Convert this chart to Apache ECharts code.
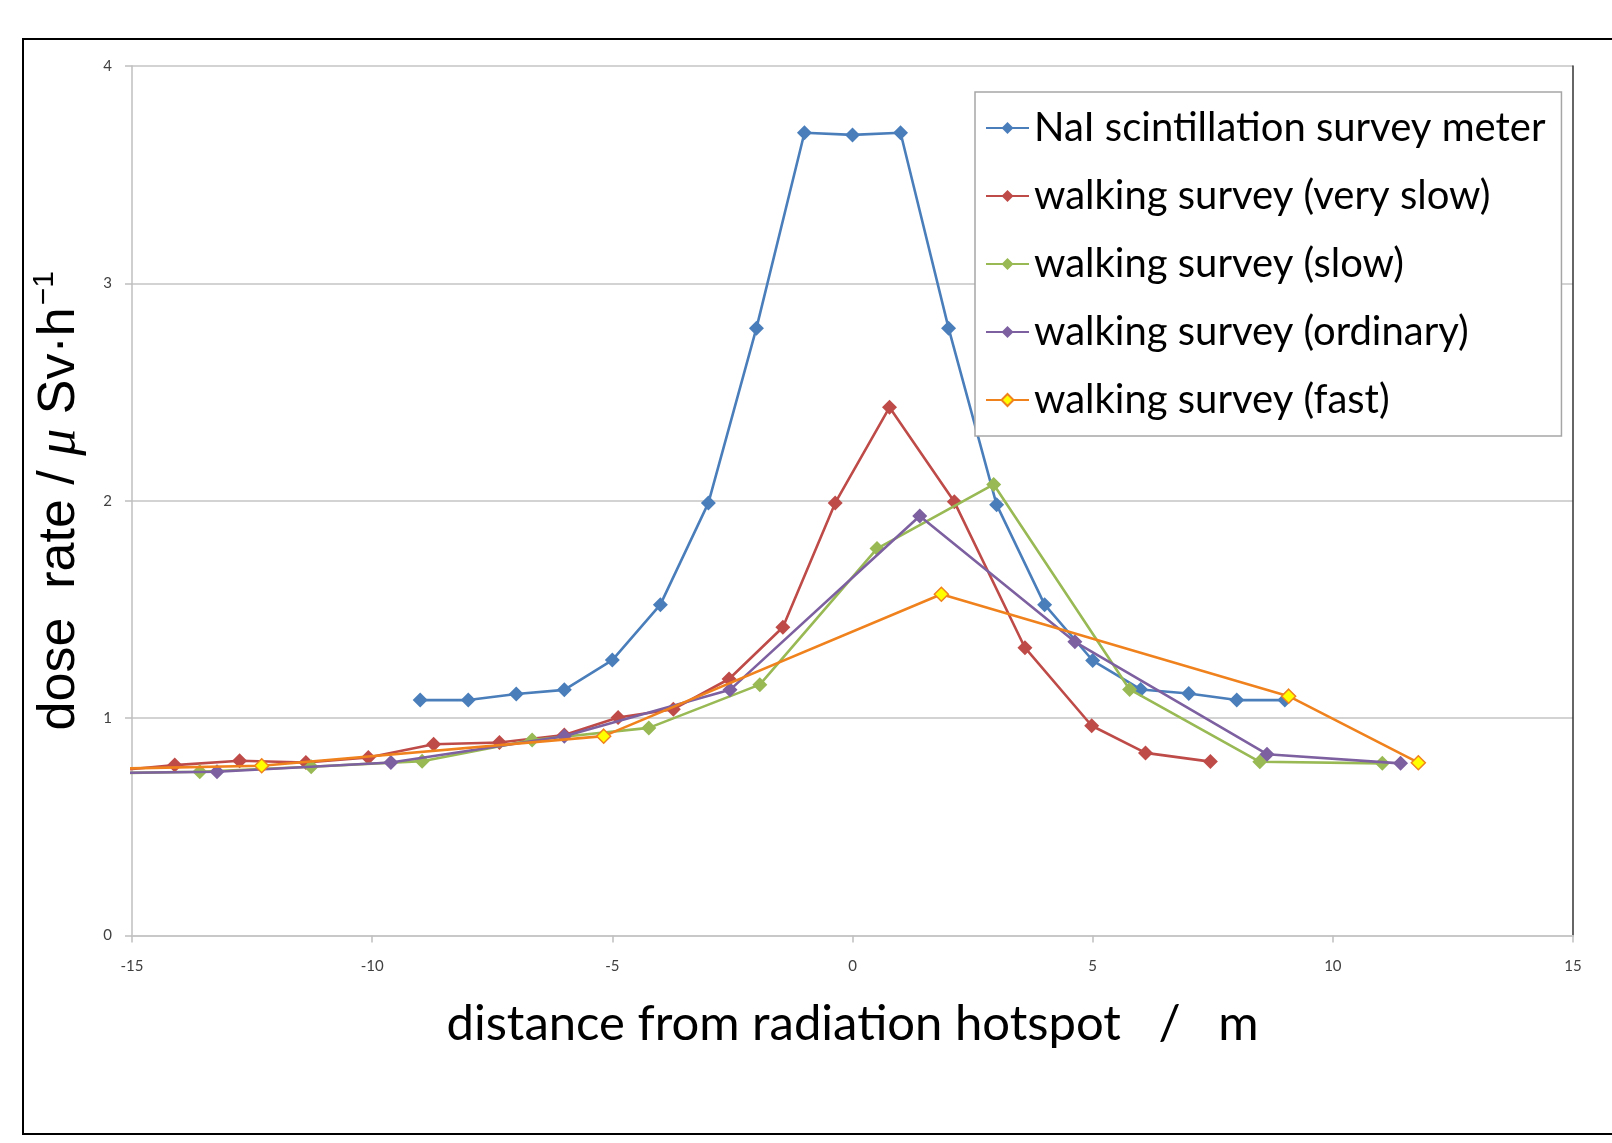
<!DOCTYPE html>
<html>
<head>
<meta charset="utf-8">
<script src="https://cdn.jsdelivr.net/npm/echarts@6/dist/echarts.min.js"></script>
<style>
html,body{margin:0;padding:0;background:#fff;}
#chart{width:1612px;height:1143px;}
</style>
</head>
<body>
<div id="chart"></div>
<script>
// ---- data ----
const seriesNames = [
  'NaI scintillation survey meter',
  'walking survey (very slow)',
  'walking survey (slow)',
  'walking survey (ordinary)',
  'walking survey (fast)'
];
const naiX = [-9, -8, -7, -6, -5, -4, -3, -2, -1, 0, 1, 2, 3, 4, 5, 6, 7, 8, 9];
const naiY = [1.083, 1.083, 1.111, 1.13, 1.267, 1.522, 1.99, 2.794, 3.693, 3.683, 3.693, 2.794, 1.982, 1.522, 1.265, 1.132, 1.113, 1.083, 1.083];

const verySlowX = [-15.5, -14.11, -12.76, -11.38, -10.08, -8.72, -7.35, -6.0, -4.88, -3.73, -2.57, -1.45, -0.36, 0.77, 2.12, 3.59, 4.98, 6.1, 7.45];
const verySlowY = [0.755, 0.784, 0.804, 0.796, 0.819, 0.88, 0.888, 0.922, 1.003, 1.041, 1.18, 1.418, 1.99, 2.43, 1.995, 1.324, 0.965, 0.84, 0.80];

const slowX = [-15.9, -13.59, -11.27, -8.96, -6.67, -4.24, -1.93, 0.51, 2.94, 5.77, 8.48, 11.03];
const slowY = [0.745, 0.753, 0.776, 0.802, 0.899, 0.955, 1.154, 1.78, 2.075, 1.132, 0.799, 0.792];

const ordinaryX = [-16.83, -13.23, -9.61, -6.0, -2.55, 1.40, 4.63, 8.63, 11.41];
const ordinaryY = [0.745, 0.753, 0.796, 0.917, 1.13, 1.93, 1.351, 0.834, 0.792];

const fastX = [-19.4, -12.3, -5.18, 1.85, 9.08, 11.78];
const fastY = [0.75, 0.781, 0.917, 1.57, 1.101, 0.795];

const xTicks = [-15, -10, -5, 0, 5, 10, 15];
const yTicks = [0, 1, 2, 3, 4];

// ---- build ----
function pairs(xs, ys){ return xs.map((x,i)=>[x, ys[i]]); }
const colors = ['#4A7EBB', '#BE4B48', '#98B954', '#7D60A0', '#F0821E'];
const allX = [naiX, verySlowX, slowX, ordinaryX, fastX];
const allY = [naiY, verySlowY, slowY, ordinaryY, fastY];

const series = seriesNames.map((name, i) => ({
  name: name,
  type: 'line',
  data: pairs(allX[i], allY[i]),
  clip: true,
  symbol: 'diamond',
  symbolSize: i === 4 ? 14 : 15,
  lineStyle: { color: colors[i], width: 2.6 },
  itemStyle: i === 4
    ? { color: '#FFFF00', borderColor: colors[i], borderWidth: 1.5 }
    : { color: colors[i], borderColor: colors[i], borderWidth: 0 },
  emphasis: { disabled: true },
  z: 2 + i
}));

const chart = echarts.init(document.getElementById('chart'), null, { renderer: 'canvas' });
chart.setOption({
  animation: false,
  backgroundColor: '#ffffff',
  color: colors,
  graphic: [{
    type: 'rect',
    shape: { x: 23, y: 39, width: 1640, height: 1095 },
    style: { fill: 'none', stroke: '#000000', lineWidth: 2 },
    z: -10, silent: true
  }],
  grid: { left: 132, right: 39, top: 66, bottom: 207.5, containLabel: false },
  legend: {
    orient: 'vertical',
    left: 975, top: 92,
    padding: [14, 16, 14, 10],
    itemGap: 24,
    itemWidth: 43, itemHeight: 15,
    backgroundColor: '#ffffff',
    borderColor: '#A6A6A6', borderWidth: 1.5,
    textStyle: { fontFamily: 'Lato', fontSize: 40, lineHeight: 44, color: '#000000' },
    data: seriesNames,
    selectedMode: false
  },
  xAxis: {
    type: 'value',
    min: -15, max: 15, interval: 5,
    name: 'distance from radiation hotspot\u00a0\u00a0\u00a0/\u00a0\u00a0\u00a0m',
    nameLocation: 'middle',
    nameGap: 60,
    nameTextStyle: { fontFamily: 'Lato', fontSize: 49, color: '#000000', lineHeight: 58 },
    axisLine: { show: true, onZero: false, lineStyle: { color: '#C8C8C8', width: 2 } },
    axisTick: { show: true, length: 7, lineStyle: { color: '#BFBFBF', width: 1.5 } },
    axisLabel: { margin: 23, fontFamily: 'Lato', fontSize: 15, color: '#404040',
      formatter: v => xTicks.includes(v) ? String(v) : '' },
    splitLine: { show: false }
  },
  yAxis: [{
    type: 'value',
    min: 0, max: 4, interval: 1,
    name: '{t|dose\u00a0\u00a0rate / }{mu|\u03bc}{t| Sv\u00b7h}{sup|\u22121}',
    nameLocation: 'middle',
    nameGap: 42,
    nameTextStyle: {
      fontFamily: 'Liberation Sans', fontSize: 52, color: '#000000',
      rich: {
        t: { fontFamily: 'Liberation Sans', fontSize: 52, lineHeight: 60, color: '#000' },
        mu: { fontFamily: 'Liberation Serif', fontStyle: 'italic', fontSize: 54, lineHeight: 60, color: '#000' },
        sup: { fontFamily: 'Liberation Sans', fontSize: 30, lineHeight: 60, verticalAlign: 'top', color: '#000', padding: [0,0,0,2] }
      }
    },
    axisLine: { show: true, onZero: false, lineStyle: { color: '#BFBFBF', width: 1.5 } },
    axisTick: { show: true, length: 7, lineStyle: { color: '#BFBFBF', width: 1.5 } },
    axisLabel: { margin: 20, fontFamily: 'Lato', fontSize: 15, color: '#404040',
      formatter: v => yTicks.includes(v) ? String(v) : '' },
    splitLine: { show: true, lineStyle: { color: '#C4C4C4', width: 1.5 } }
  }, {
    type: 'value',
    min: 0, max: 4, interval: 1,
    position: 'right',
    axisLine: { show: true, onZero: false, lineStyle: { color: '#333333', width: 1.5 } },
    axisTick: { show: false },
    axisLabel: { show: false },
    splitLine: { show: false }
  }],
  series: series
});
</script>
</body>
</html>
